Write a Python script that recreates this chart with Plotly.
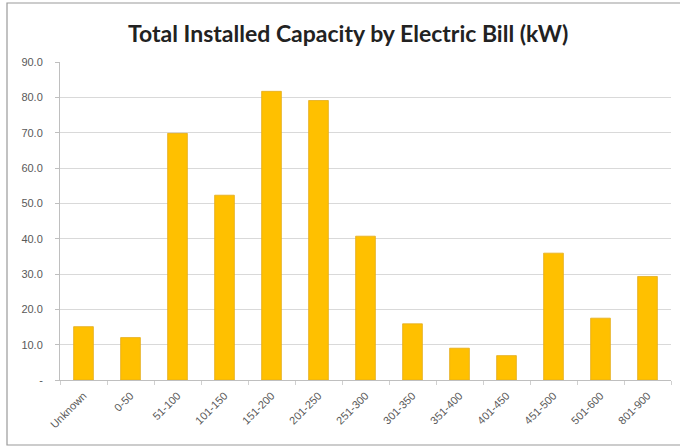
import plotly.graph_objects as go

# Installed capacity (kW) grouped by monthly electric bill range
bill_ranges = ["Unknown", "0-50", "51-100", "101-150", "151-200", "201-250",
               "251-300", "301-350", "351-400", "401-450", "451-500",
               "501-600", "801-900"]
capacity_kw = [15.1, 12.0, 69.8, 52.3, 81.7, 79.1, 40.7, 15.9, 9.0, 6.9,
               35.9, 17.5, 29.3]

y_ticks = [0, 10, 20, 30, 40, 50, 60, 70, 80, 90]
y_tick_text = ["-", "10.0", "20.0", "30.0", "40.0", "50.0", "60.0",
               "70.0", "80.0", "90.0"]

W, H = 680, 447
L, R, T, B = 60, 9, 62, 67
pw, ph = W - L - R, H - T - B


def px_x(x):
    return (x - L) / pw


def px_y(y):
    return (H - B - y) / ph


fig = go.Figure()
fig.add_trace(go.Bar(
    x=bill_ranges,
    y=capacity_kw,
    marker=dict(color="#FFC000", line=dict(color="#E3AC1C", width=0.8)),
    hoverinfo="x+y",
))

tick_font = dict(family="Liberation Sans", size=11, color="#595959")

fig.update_layout(
    width=W, height=H,
    margin=dict(l=L, r=R, t=T, b=B),
    paper_bgcolor="white",
    plot_bgcolor="white",
    bargap=0.58,
    showlegend=False,
    title=dict(
        text="<b>Total Installed Capacity by Electric Bill (kW)</b>",
        x=0.512, xanchor="center", y=0.925, yanchor="middle",
        font=dict(family="Lato", size=23, color="#222222"),
    ),
    xaxis=dict(
        tickangle=-45,
        tickfont=tick_font,
        ticklabelstandoff=4,
        showline=True, linecolor="#BFBFBF", linewidth=1,
        tickson="boundaries", ticks="outside", ticklen=4, tickcolor="#D0D0D0",
        showgrid=False,
    ),
    yaxis=dict(
        range=[0, 90],
        tickvals=y_ticks, ticktext=y_tick_text,
        tickfont=tick_font,
        ticklabelstandoff=10,
        showline=True, linecolor="#BFBFBF", linewidth=1,
        ticks="outside", ticklen=4, tickcolor="#BFBFBF",
        showgrid=True, gridcolor="#D9D9D9", gridwidth=1,
        zeroline=False,
    ),
    shapes=[dict(
        type="rect", xref="paper", yref="paper",
        x0=px_x(7), x1=px_x(681), y0=px_y(445), y1=px_y(3),
        line=dict(color="#9A9A9A", width=1.2), fillcolor="rgba(0,0,0,0)",
        layer="below",
    )],
)

fig.write_html("out.html")
